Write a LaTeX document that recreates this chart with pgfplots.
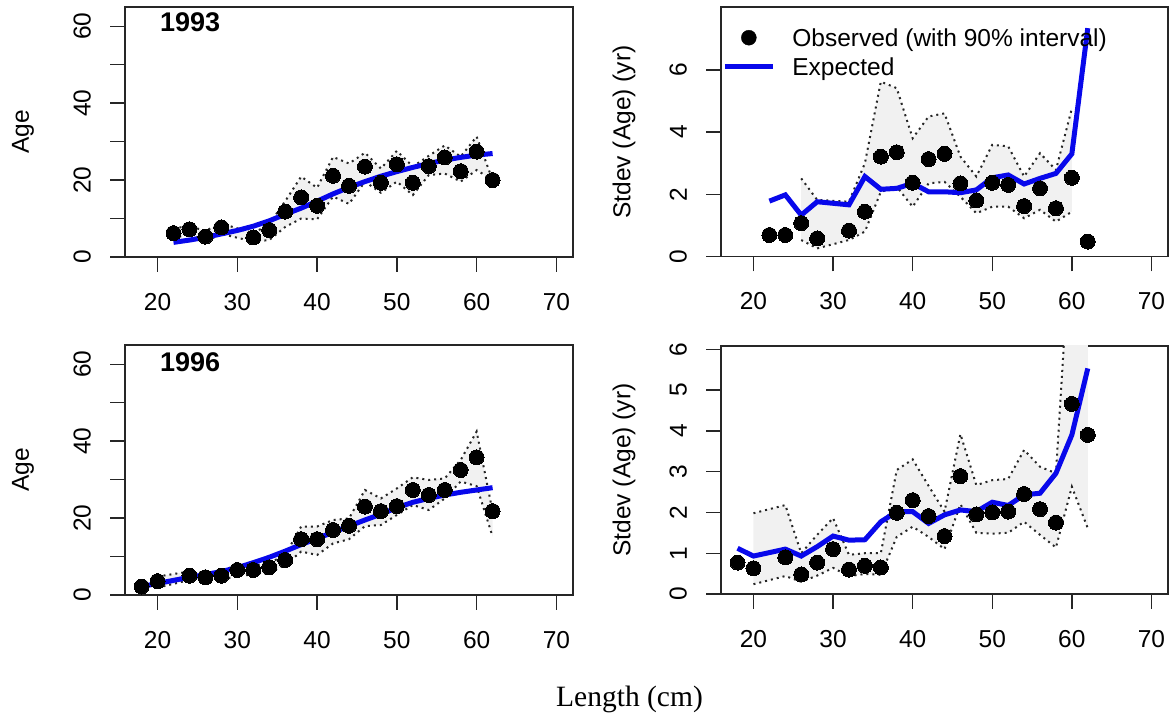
\documentclass[border=0pt]{standalone}
\usepackage{fontspec}
\setmainfont{Liberation Sans}
\newfontfamily\timesfont{Liberation Serif}
\usepackage{pgfplots}
\usepackage{pgfplotstable}
\pgfplotsset{compat=1.18}
\usepgfplotslibrary{fillbetween}
\definecolor{bandgray}{RGB}{241,241,241}
\definecolor{expblue}{RGB}{8,8,235}
\newcommand{\fs}{\fontsize{24.5bp}{28bp}\selectfont}
\newcommand{\lstrut}{\rule[-8bp]{0pt}{28bp}}

% ---------- 1993 ----------
\pgfplotstableread{
L obs
22 6.2
24 7.2
26 5.3
28 7.7
32 5.1
34 7.0
36 11.8
38 15.5
40 13.3
42 21.1
44 18.5
46 23.5
48 19.3
50 24.1
52 19.3
54 23.6
56 25.9
58 22.3
60 27.4
62 20.0
}\tlobs
\pgfplotstableread{
L exp
22 3.8
24 4.4
26 5.1
28 6.0
30 6.9
32 8.0
34 9.4
36 11.1
38 12.7
40 14.5
42 16.4
44 18.1
46 19.6
48 21.0
50 22.2
52 23.3
54 24.3
56 25.2
58 25.9
60 26.5
62 26.9
}\tlexp
\pgfplotstableread{
L up lo
22 7.5 4.8
24 8.0 6.0
26 6.8 4.0
28 8.7 6.0
32 6.2 4.0
34 8.5 4.4
36 14.5 7.8
38 20.9 10.0
40 18.0 9.8
42 26.0 15.7
44 24.3 13.8
46 27.1 19.6
48 23.0 16.7
50 27.6 19.6
52 23.5 16.1
54 26.3 21.3
56 29.0 21.7
58 26.1 19.6
60 31.3 22.6
62 20.0 20.0
}\tlband
\pgfplotstableread{
L obs
22 0.69
24 0.69
26 1.07
28 0.58
32 0.83
34 1.44
36 3.21
38 3.35
40 2.37
42 3.13
44 3.30
46 2.35
48 1.80
50 2.37
52 2.30
54 1.62
56 2.19
58 1.55
60 2.53
62 0.48
}\trobs
\pgfplotstableread{
L exp
22 1.78
24 1.98
26 1.33
28 1.76
32 1.66
34 2.57
36 2.16
38 2.19
40 2.35
42 2.08
44 2.08
46 2.05
48 2.14
50 2.53
52 2.62
54 2.33
56 2.51
58 2.67
60 3.30
62 7.34
}\trexp
\pgfplotstableread{
L up lo
26 2.51 0.53
28 1.82 0.26
32 1.76 0.53
34 3.00 0.80
36 5.62 2.08
38 5.41 2.24
40 3.80 1.60
42 4.50 2.35
44 4.60 2.40
46 3.21 1.92
48 2.57 1.39
50 3.59 1.60
52 3.54 1.60
54 2.57 1.23
56 3.32 1.50
58 2.78 1.12
60 4.76 1.44
}\trband
% ---------- 1996 ----------
\pgfplotstableread{
L obs
18 2.2
20 3.6
24 5.0
26 4.6
28 5.0
30 6.5
32 6.5
34 7.2
36 9.1
38 14.5
40 14.5
42 16.9
44 18.0
46 23.0
48 21.8
50 23.1
52 27.3
54 26.0
56 27.3
58 32.5
60 35.8
62 21.8
}\blobs
\pgfplotstableread{
L exp
18 2.2
20 3.0
24 4.6
26 5.3
28 6.1
30 7.1
32 8.4
34 9.8
36 11.4
38 13.1
40 14.7
42 16.3
44 17.9
46 19.5
48 21.0
50 22.7
52 24.1
54 25.1
56 26.0
58 26.7
60 27.3
62 27.9
}\blexp
\pgfplotstableread{
L up lo
20 4.8 1.9
24 6.1 3.9
26 5.6 3.8
28 6.3 3.9
30 7.8 5.0
32 7.6 5.3
34 8.3 5.8
36 10.4 7.8
38 17.8 11.3
40 17.8 10.4
42 19.5 13.4
44 19.9 14.5
46 27.3 17.9
48 25.1 18.2
50 27.7 20.8
52 30.6 23.4
54 29.9 22.1
56 30.3 25.1
58 35.1 29.5
60 42.5 28.3
62 21.7 15.2
}\blband
\pgfplotstableread{
L obs
18 0.77
20 0.63
24 0.90
26 0.48
28 0.77
30 1.10
32 0.60
34 0.69
36 0.65
38 1.99
40 2.30
42 1.91
44 1.42
46 2.89
48 1.95
50 2.00
52 2.02
54 2.45
56 2.08
58 1.75
60 4.66
62 3.90
}\brobs
\pgfplotstableread{
L exp
18 1.12
20 0.93
24 1.10
26 0.93
28 1.16
30 1.42
32 1.32
34 1.33
36 1.77
38 2.02
40 2.02
42 1.73
44 1.94
46 2.06
48 2.02
50 2.25
52 2.17
54 2.43
56 2.47
58 2.96
60 3.90
62 5.53
}\brexp
\pgfplotstableread{
L up lo
20 1.98 0.24
24 2.18 0.44
26 1.00 0.30
28 1.45 0.45
30 1.86 0.64
32 0.96 0.44
34 1.00 0.49
36 1.00 0.47
38 3.04 1.40
40 3.30 1.65
42 2.65 1.40
44 2.02 1.10
46 3.92 2.20
48 2.67 1.50
50 2.79 1.48
52 2.82 1.50
54 3.53 1.77
56 3.12 1.45
58 2.96 1.14
60 9.30 2.63
62 8.50 1.61
}\brband

\pgfplotsset{
 panel/.style={scale only axis, xmin=15.92, xmax=72.08, ymin=0,
  xtick={20,30,40,50,60,70}, xticklabels={20,30,40,50,60,70},
  /pgf/number format/assume math mode=true,
  tick pos=left, tick align=outside, major tick length=15bp,
  axis line style={line width=1.4bp, black!85},
  tick style={line width=1.4bp, black!85},
  tick label style={font=\fs, inner sep=0pt},
  xticklabel style={anchor=center}, xticklabel shift=30bp,
  yticklabel style={rotate=90, anchor=south}, yticklabel shift=19bp},
 band/.style={line width=2bp, black!85, dash pattern=on 2bp off 4bp, forget plot},
 expd/.style={line width=5bp, expblue},
 obs/.style={only marks, mark=*, mark size=7.5bp, black, mark options={line width=0pt}},
}

\begin{document}
\begin{tikzpicture}

% Top-left
\begin{axis}[panel, at={(125bp,708bp)}, anchor=north west, width=448bp, height=250bp,
  ymax=65, ytick={0,10,...,60}, yticklabels={0,,20,,40,,60}]
\addplot[draw=none, name path=u, forget plot] table[x=L,y=up]{\tlband};
\addplot[draw=none, name path=l, forget plot] table[x=L,y=lo]{\tlband};
\addplot[fill=bandgray, draw=none, forget plot] fill between[of=u and l];
\addplot[band] table[x=L,y=up]{\tlband};
\addplot[band] table[x=L,y=lo]{\tlband};
\addplot[expd] table[x=L,y=exp]{\tlexp};
\addplot[obs] table[x=L,y=obs]{\tlobs};
\end{axis}

% Top-right
\begin{axis}[panel, at={(721bp,708bp)}, anchor=north west, width=447bp, height=249.5bp,
  ymax=8.02, ytick={0,2,4,6}, yticklabels={0,2,4,6},
  reverse legend,
  legend style={draw=none, fill=none, at={(0.003,0.92)}, anchor=north west,
    inner sep=0pt, outer sep=0pt, row sep=7bp, font=\fs,
    nodes={inner sep=0pt, outer sep=0pt},
    /tikz/every odd column/.append style={column sep=17bp}},
  legend cell align=left]
\addplot[draw=none, name path=u, forget plot] table[x=L,y=up]{\trband};
\addplot[draw=none, name path=l, forget plot] table[x=L,y=lo]{\trband};
\addplot[fill=bandgray, draw=none, forget plot] fill between[of=u and l];
\addplot[band] table[x=L,y=up]{\trband};
\addplot[band] table[x=L,y=lo]{\trband};
\addplot[expd, legend image code/.code={\draw[line width=5bp, expblue] (0bp,0bp) -- (48bp,0bp);}] table[x=L,y=exp]{\trexp};
\addlegendentry{\lstrut Expected}
\addplot[obs, legend image code/.code={\fill[black] (24bp,0bp) circle (7.5bp);}] table[x=L,y=obs]{\trobs};
\addlegendentry{\lstrut Observed (with 90\% interval)}
\end{axis}

% Bottom-left
\begin{axis}[panel, at={(125bp,370bp)}, anchor=north west, width=448bp, height=250bp,
  ymax=65, ytick={0,10,...,60}, yticklabels={0,,20,,40,,60}]
\addplot[draw=none, name path=u, forget plot] table[x=L,y=up]{\blband};
\addplot[draw=none, name path=l, forget plot] table[x=L,y=lo]{\blband};
\addplot[fill=bandgray, draw=none, forget plot] fill between[of=u and l];
\addplot[band] table[x=L,y=up]{\blband};
\addplot[band] table[x=L,y=lo]{\blband};
\addplot[expd] table[x=L,y=exp]{\blexp};
\addplot[obs] table[x=L,y=obs]{\blobs};
\end{axis}

% Bottom-right
\begin{axis}[panel, at={(721bp,369bp)}, anchor=north west, width=447bp, height=248bp,
  ymax=6.08, ytick={0,1,2,3,4,5,6}, yticklabels={0,1,2,3,4,5,6}]
\addplot[draw=none, name path=u, forget plot] table[x=L,y=up]{\brband};
\addplot[draw=none, name path=l, forget plot] table[x=L,y=lo]{\brband};
\addplot[fill=bandgray, draw=none, forget plot] fill between[of=u and l];
\addplot[band] table[x=L,y=up]{\brband};
\addplot[band] table[x=L,y=lo]{\brband};
\addplot[expd] table[x=L,y=exp]{\brexp};
\addplot[obs] table[x=L,y=obs]{\brobs};
\end{axis}

\node[rotate=90, font=\fs] at (23bp,583bp) {Age};
\node[rotate=90, font=\fs] at (23bp,245bp) {Age};
\node[rotate=90, font=\fs] at (624bp,583bp) {Stdev (Age) (yr)};
\node[rotate=90, font=\fs] at (624bp,245bp) {Stdev (Age) (yr)};
\node[anchor=base, font=\timesfont\fontsize{29.5bp}{34bp}\selectfont] at (629.5bp,9bp) {Length (cm)};
\node[anchor=west, inner sep=0pt, font=\bfseries\fontsize{27bp}{32bp}\selectfont] at (160bp,693bp) {1993};
\node[anchor=west, inner sep=0pt, font=\bfseries\fontsize{27bp}{32bp}\selectfont] at (160bp,353bp) {1996};

\pgfresetboundingbox
\path[use as bounding box] (0,0) rectangle (1173bp,715bp);
\end{tikzpicture}
\end{document}
